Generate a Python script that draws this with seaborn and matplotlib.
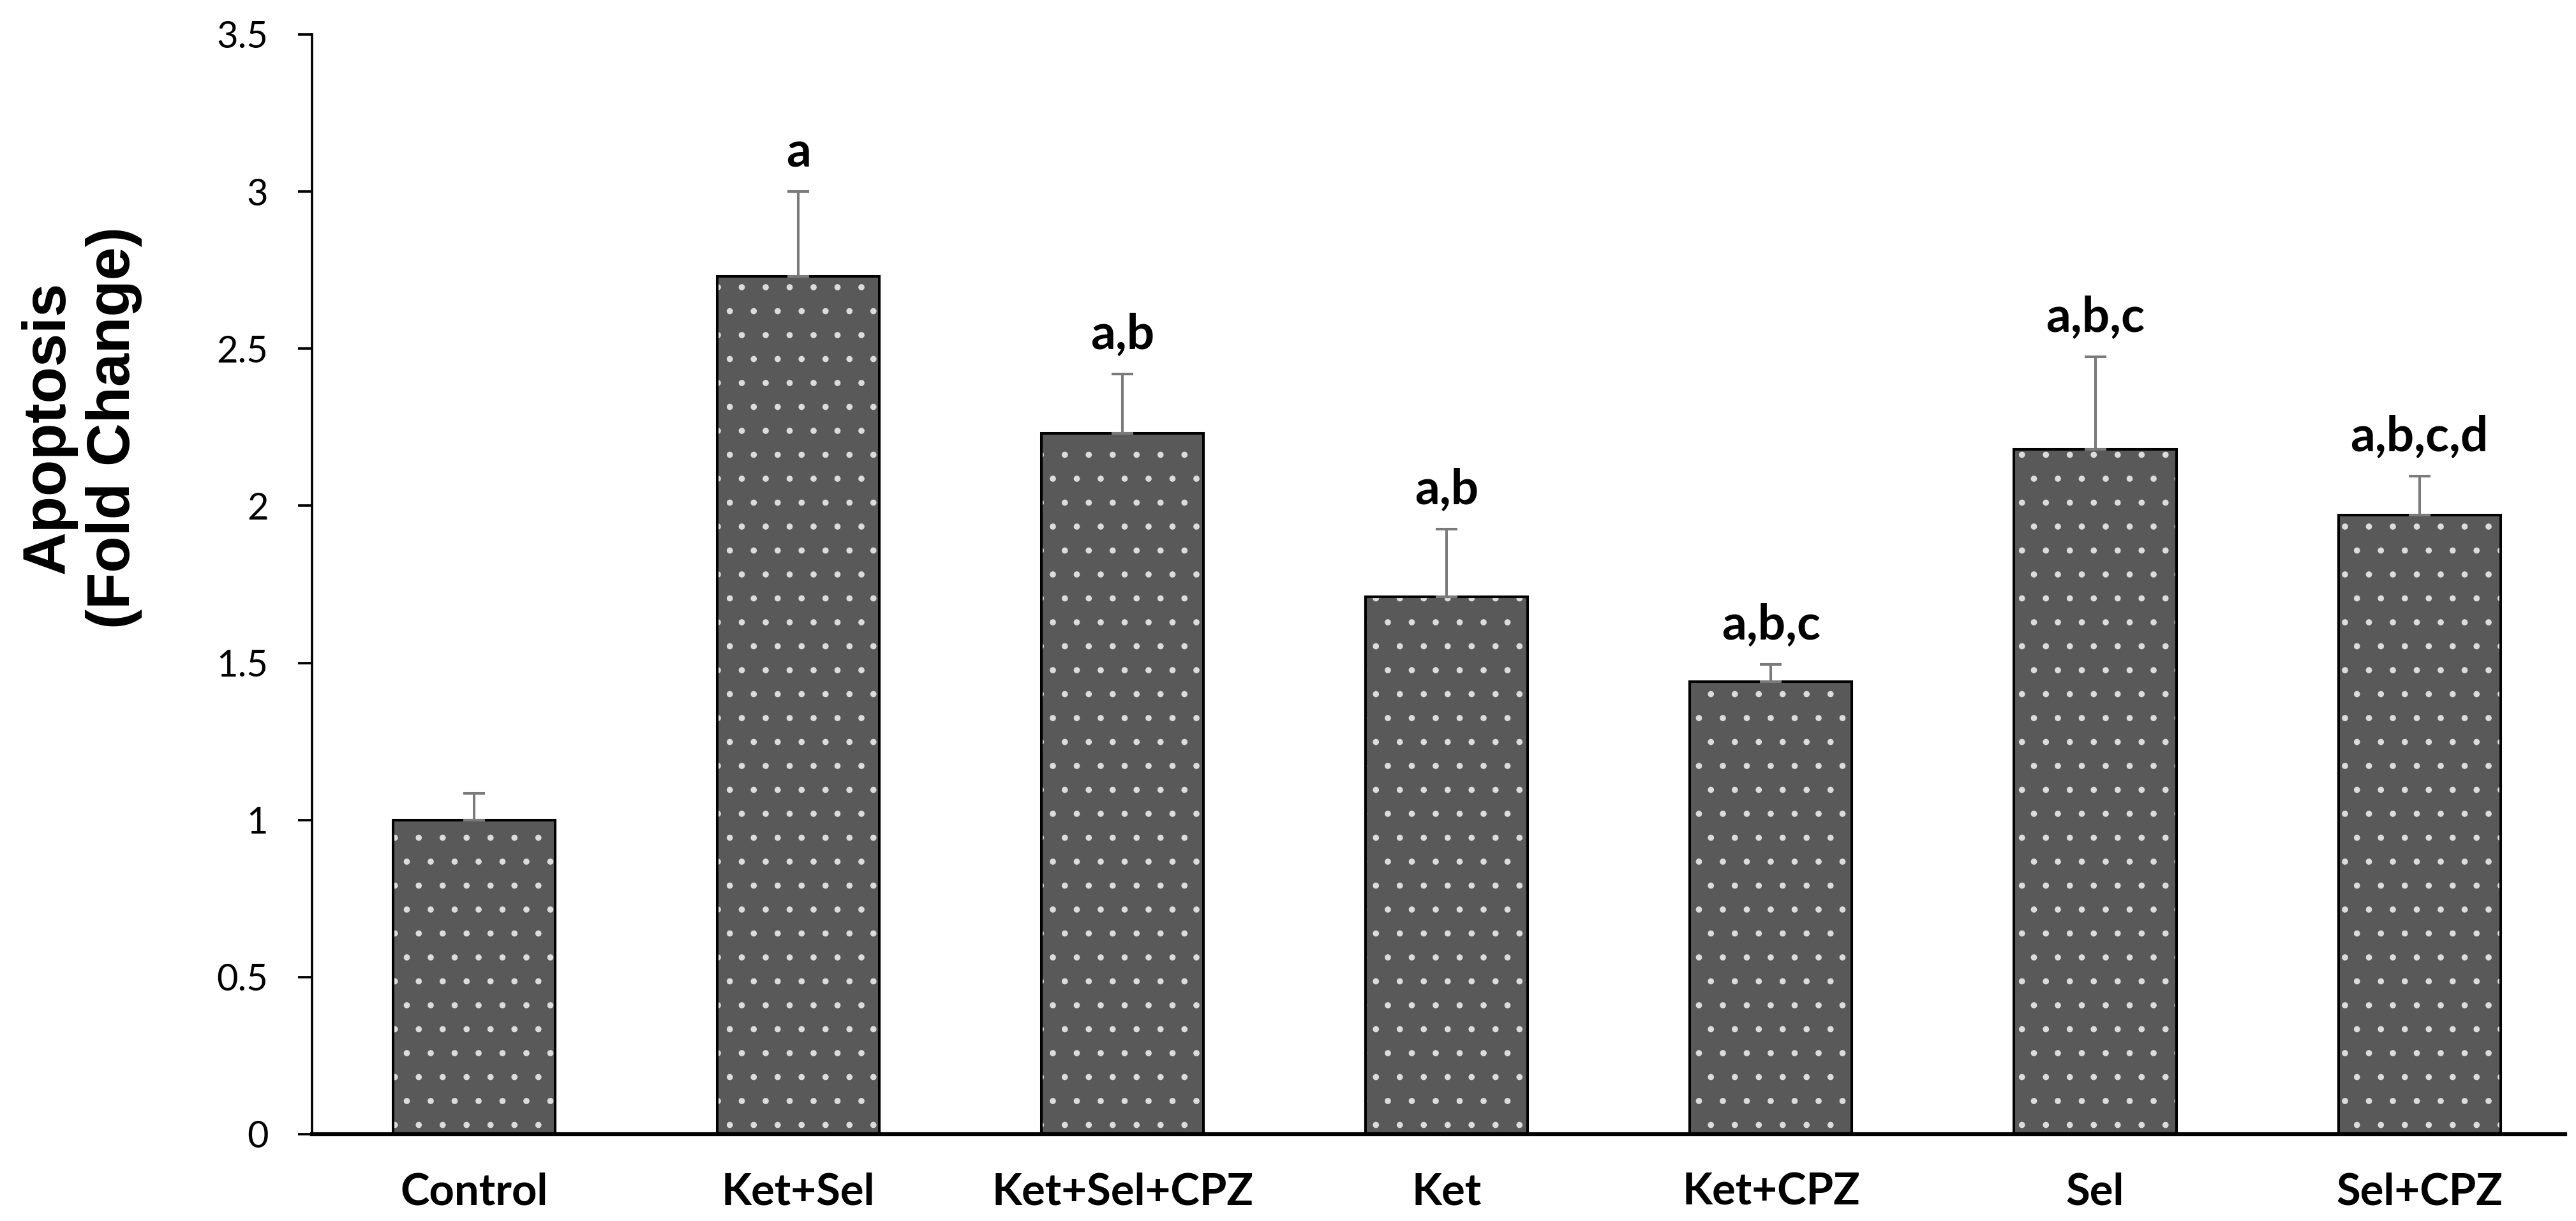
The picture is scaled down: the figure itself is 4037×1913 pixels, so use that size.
import matplotlib
matplotlib.use('Agg')
import matplotlib.pyplot as plt
import numpy as np
import pandas as pd
import seaborn as sns

groups = ['Control', 'Ket+Sel', 'Ket+Sel+CPZ', 'Ket', 'Ket+CPZ', 'Sel', 'Sel+CPZ']
fold_change = [1.00, 2.73, 2.23, 1.71, 1.44, 2.18, 1.97]
sem = [0.085, 0.27, 0.19, 0.215, 0.055, 0.295, 0.125]
letters = ['', 'a', 'a,b', 'a,b', 'a,b,c', 'a,b,c', 'a,b,c,d']
ytick_values = [0, 0.5, 1, 1.5, 2, 2.5, 3, 3.5]
ytick_labels = ['0', '0.5', '1', '1.5', '2', '2.5', '3', '3.5']

sns.set_style('white')
plt.rcParams['font.family'] = ['Lato', 'DejaVu Sans']
plt.rcParams['hatch.linewidth'] = 0.7
for key in ['text.color', 'axes.labelcolor', 'xtick.color', 'ytick.color']:
    plt.rcParams[key] = 'black'

df = pd.DataFrame({'group': groups, 'fold': fold_change})

DPI = 225
fig = plt.figure(figsize=(4038 / DPI, 1913 / DPI), dpi=DPI)
ax = fig.add_axes([0.1211, 0.0711, 0.8745, 0.9007])

# dotted fill first, then a black outline on top
sns.barplot(data=df, x='group', y='fold', color='#595959', saturation=1,
            width=0.5, errorbar=None, hatch='.', edgecolor='#dcdcdc',
            linewidth=0, ax=ax)
sns.barplot(data=df, x='group', y='fold', color='black', fill=False,
            width=0.5, errorbar=None, linewidth=1.3, ax=ax)

pos = ax.get_xticks()
ax.errorbar(pos, fold_change, yerr=[np.zeros(len(sem)), sem], fmt='none',
            ecolor='#7a7a7a', elinewidth=1.3, capsize=5.3, capthick=1.3, zorder=3)

for x, y, e, lab in zip(pos, fold_change, sem, letters):
    if lab:
        ax.annotate(lab, (x, y + e), xytext=(0, 12.5), textcoords='offset points',
                    ha='center', va='baseline', fontsize=24.5, fontweight='bold')

ax.set_xlim(-0.5, 6.45)
ax.set_ylim(0, 3.5)
ax.set_yticks(ytick_values)
ax.set_yticklabels(ytick_labels)
ax.set_xlabel('')
ax.set_ylabel('Apoptosis\n(Fold Change)', fontsize=30, fontweight='bold',
              family=['Liberation Sans', 'DejaVu Sans'])
ax.yaxis.set_label_coords(-0.0753, 0.6425)

ax.tick_params(axis='y', left=True, length=7, width=1.2, pad=15, labelsize=18.5)
ax.tick_params(axis='x', bottom=False, length=0, pad=19, labelsize=22)
for lbl in ax.get_xticklabels():
    lbl.set_fontweight('bold')

sns.despine(ax=ax)
ax.spines['left'].set_linewidth(1.2)
ax.spines['left'].set_color('black')
ax.spines['bottom'].set_linewidth(2)
ax.spines['bottom'].set_color('black')

fig.savefig('out.png', dpi=DPI)
